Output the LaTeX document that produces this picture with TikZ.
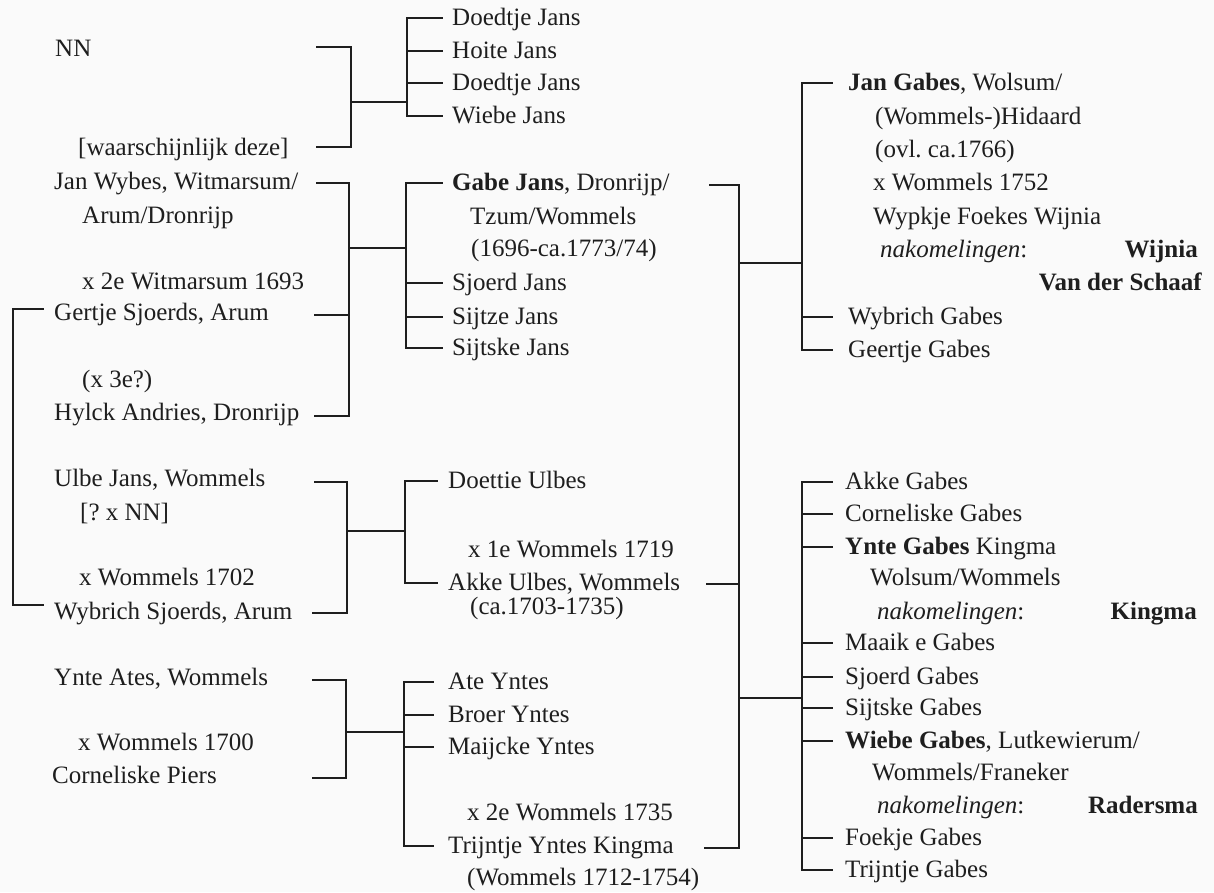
\documentclass[tikz,border=0pt]{standalone}
\usepackage{fontspec}
\setmainfont{Liberation Serif}
\usetikzlibrary{calc}
\definecolor{ink}{HTML}{1E1E1E}
\definecolor{paper}{HTML}{FAFAFA}
\tikzset{
  txt/.style={anchor=base west, inner sep=0pt, text=ink, font=\fontsize{25}{29}\selectfont\frenchspacing},
  fam/.style={anchor=base east, inner sep=0pt, text=ink, font=\fontsize{25}{29}\selectfont\bfseries},
  conn/.style={draw=ink, line width=2pt, line cap=rect, line join=miter}
}
% #1 name, #2 x, #3 y(centre), #4 text
\newcommand{\ptext}[4]{\node[txt] (#1) at (#2,{#3+7.5}) {#4};}
% #1 name, #2 vertical x, #3 tick end x, #4 text x, #5 y, #6 text
\newcommand{\kid}[6]{%
  \node[txt] (#1) at (#4,{#5+7.5}) {#6};
  \coordinate (#1t) at (#2,#5);
  \draw[conn] (#1t) -- ($(#1.base west)+({#3-#4},-7.5)$);}
\begin{document}
\frenchspacing
\begin{tikzpicture}[x=1pt,y=-1pt]
\fill[paper] (0,0) rectangle (1214,892);
\useasboundingbox (0,0) rectangle (1214,892);

% ---------------- left column (parents) ----------------
\ptext{nn}{55}{49}{NN}
\ptext{wd}{78}{148}{[waarschijnlijk deze]}
\ptext{jw}{54}{182}{Jan Wybes, Witmarsum/}
\ptext{jw2}{82}{216}{Arum/Dronrijp}
\ptext{jwx}{82}{282}{x 2e Witmarsum 1693}
\ptext{gs}{54}{313}{Gertje Sjoerds, Arum}
\ptext{hax}{82}{380}{(x 3e?)}
\ptext{ha}{54}{413}{Hylck Andries, Dronrijp}
\ptext{uj}{54}{479}{Ulbe Jans, Wommels}
\ptext{uj2}{80}{513}{[? x NN]}
\ptext{ujx}{79}{578}{x Wommels 1702}
\ptext{ws}{54}{612}{Wybrich Sjoerds, Arum}
\ptext{ya}{54}{678}{Ynte Ates, Wommels}
\ptext{yax}{78}{743}{x Wommels 1700}
\ptext{cp}{52}{776}{Corneliske Piers}

% parent brackets
\coordinate (b1) at (351,102);
\draw[conn] (317,47) -- (351,47) -- (351,147) -- (317,147);
\draw[conn] (b1) -- (407,102);
\coordinate (b2) at (349,248);
\draw[conn] (317,183) -- (349,183) -- (349,416) -- (315,416);
\draw[conn] (315,315) -- (349,315);
\draw[conn] (b2) -- (406,248);
\coordinate (b3) at (347,531);
\draw[conn] (315,482) -- (347,482) -- (347,613) -- (313,613);
\draw[conn] (b3) -- (405,531);
\coordinate (b4) at (346,732);
\draw[conn] (313,680) -- (346,680) -- (346,778) -- (313,778);
\draw[conn] (b4) -- (404,732);
% Gertje = Wybrich (sisters)
\draw[conn] (43,309) -- (13,309) -- (13,605) -- (43,605);

% ---------------- middle column ----------------
\draw[conn] (407,18) -- (407,116);
\kid{dj1}{407}{442}{452}{18}{Doedtje Jans}
\kid{hj}{407}{442}{452}{51}{Hoite Jans}
\kid{dj2}{407}{442}{452}{83}{Doedtje Jans}
\kid{wj}{407}{442}{452}{116}{Wiebe Jans}

\draw[conn] (406,183) -- (406,348);
\kid{gj}{406}{442}{452}{183}{\textbf{Gabe Jans}, Dronrijp/}
\ptext{gj2}{470}{217}{Tzum/Wommels}
\ptext{gj3}{471}{249}{(1696-ca.1773/74)}
\kid{sj}{406}{442}{452}{283}{Sjoerd Jans}
\kid{szj}{406}{442}{452}{317}{Sijtze Jans}
\kid{skj}{406}{442}{452}{348}{Sijtske Jans}

\draw[conn] (405,481) -- (405,583);
\kid{du}{405}{437}{448}{481}{Doettie Ulbes}
\ptext{aux}{468}{550}{x 1e Wommels 1719}
\kid{au}{405}{437}{448}{583}{Akke Ulbes, Wommels}
\ptext{au2}{470}{607}{(ca.1703-1735)}

\draw[conn] (404,682) -- (404,846);
\kid{ay}{404}{433}{448}{682}{Ate Yntes}
\kid{by}{404}{433}{448}{715}{Broer Yntes}
\kid{my}{404}{433}{448}{747}{Maijcke Yntes}
\ptext{tyx}{467}{813}{x 2e Wommels 1735}
\kid{ty}{404}{433}{448}{846}{Trijntje Yntes Kingma}
\ptext{ty2}{467}{878}{(Wommels 1712-1754)}

% Gabe x Akke / Trijntje
\coordinate (g1) at (739,263);
\coordinate (g2) at (739,698);
\draw[conn] (710,185) -- (739,185) -- (739,848) -- (705,848);
\draw[conn] (707,584) -- (739,584);
\draw[conn] (g1) -- (802,263);
\draw[conn] (g2) -- (802,698);

% ---------------- right column ----------------
\draw[conn] (802,83) -- (802,350);
\kid{jg}{802}{832}{848}{83}{\textbf{Jan Gabes}, Wolsum/}
\ptext{jg2}{875}{117}{(Wommels-)Hidaard}
\ptext{jg3}{875}{150}{(ovl. ca.1766)}
\ptext{jg4}{873}{183}{x Wommels 1752}
\ptext{jg5}{873}{217}{Wypkje Foekes Wijnia}
\ptext{jg6}{880}{250}{\itshape nakomelingen\upshape:}
\node[fam] (fw) at (1198,257.5) {Wijnia};
\node[fam] (fv) at (1202,290.5) {Van der Schaaf};
\kid{wg}{802}{832}{848}{317}{Wybrich Gabes}
\kid{geg}{802}{832}{848}{350}{Geertje Gabes}

\draw[conn] (802,482) -- (802,870);
\kid{ag}{802}{832}{845}{482}{Akke Gabes}
\kid{cg}{802}{832}{845}{514}{Corneliske Gabes}
\kid{yg}{802}{832}{845}{547}{\textbf{Ynte Gabes} Kingma}
\ptext{yg2}{870}{578}{Wolsum/Wommels}
\ptext{yg3}{877}{612}{\itshape nakomelingen\upshape:}
\node[fam] (fk) at (1197,619.5) {Kingma};
\kid{mg}{802}{832}{845}{643}{Maaik e Gabes}
\kid{sg}{802}{832}{845}{677}{Sjoerd Gabes}
\kid{skg}{802}{832}{845}{708}{Sijtske Gabes}
\kid{wbg}{802}{832}{845}{741}{\textbf{Wiebe Gabes}, Lutkewierum/}
\ptext{wbg2}{872}{773}{Wommels/Franeker}
\ptext{wbg3}{877}{806}{\itshape nakomelingen\upshape:}
\node[fam] (fr) at (1198,813.5) {Radersma};
\kid{fg}{802}{832}{845}{838}{Foekje Gabes}
\kid{tg}{802}{832}{845}{870}{Trijntje Gabes}
\end{tikzpicture}
\end{document}
